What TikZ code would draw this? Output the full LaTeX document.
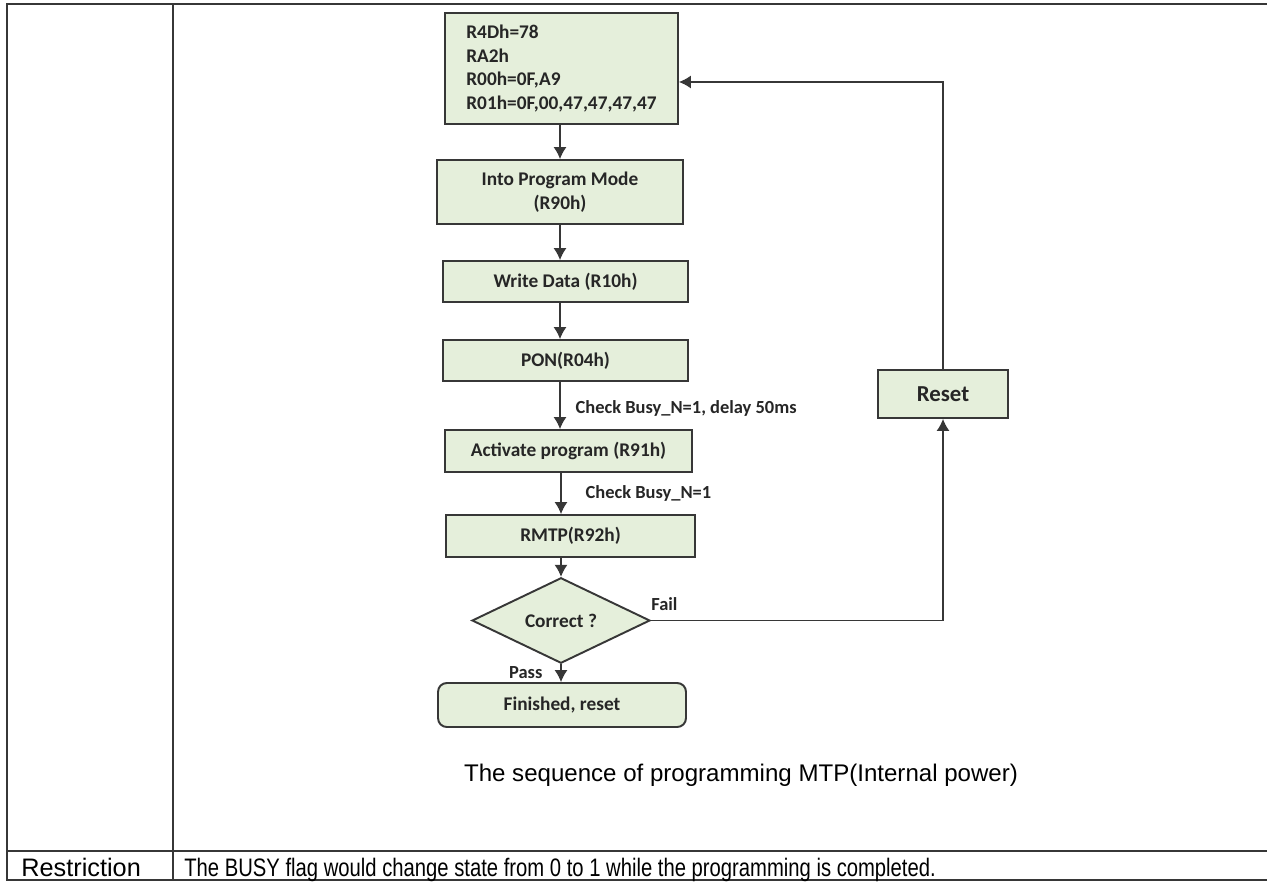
\documentclass[tikz,border=0pt]{standalone}
\usepackage{fontspec}
\setmainfont{Liberation Sans}
\newfontfamily\boxfont{Carlito}
\newfontfamily\narrowfont{Liberation Sans}[FakeStretch=0.8]
\usetikzlibrary{shapes.geometric,arrows.meta}

\definecolor{boxgreen}{RGB}{229,239,219}
\definecolor{edgegray}{RGB}{55,55,55}

\tikzset{
	stepbox/.style={draw=edgegray, line width=1.1pt, fill=boxgreen, text=black!85, inner sep=2pt, font=\boxfont\bfseries\fontsize{11}{13.4}\selectfont},
	flow/.style={draw=edgegray, line width=0.7pt, -{Latex[length=2.4mm,width=2.6mm]}},
	note/.style={text=black!85, inner sep=0pt, font=\boxfont\bfseries\fontsize{10.5}{12}\selectfont},
	grid/.style={draw=edgegray, line width=1pt}
}

\begin{document}
\begin{tikzpicture}[x=0.02cm, y=-0.02cm]
	\useasboundingbox (0,0) rectangle (1267,882);

	\draw[grid] (1267,4) -- (7,4) -- (7,880) -- (1267,880);
	\draw[grid] (173,4) -- (173,880);
	\draw[grid] (7,851) -- (1267,851);
	\node[anchor=base west, inner sep=0pt, font=\fontsize{14.4}{16}\selectfont] (restr) at (21,876) {Restriction};
	\node[anchor=base west, inner sep=0pt, font=\narrowfont\fontsize{14.4}{16}\selectfont] (busyflag) at (184,876) {The BUSY flag would change state from 0 to 1 while the programming is completed.};
	\node[anchor=base, inner sep=0pt, font=\fontsize{13.7}{16}\selectfont] (caption) at (741,781) {The sequence of programming MTP(Internal power)};

	\coordinate (axis) at (560,0);
	\node[stepbox, align=left, minimum width=4.66cm, minimum height=2.22cm] (init) at (561.5,68.5) {R4Dh=78\\RA2h\\R00h=0F,A9\\R01h=0F,00,47,47,47,47};
	\node[stepbox, align=center, minimum width=4.92cm, minimum height=1.28cm] (mode) at (560,192) {Into Program Mode\\(R90h)};
	\node[stepbox, minimum width=4.9cm, minimum height=0.82cm] (write) at (565.5,281.5) {Write Data (R10h)};
	\node[stepbox, minimum width=4.9cm, minimum height=0.82cm] (pon) at (565.5,360.5) {PON(R04h)};
	\node[stepbox, minimum width=4.94cm, minimum height=0.84cm] (act) at (568.5,451) {Activate program (R91h)};
	\node[stepbox, minimum width=4.98cm, minimum height=0.84cm] (rmtp) at (570.5,536) {RMTP(R92h)};
	\node[stepbox, diamond, inner sep=0pt, minimum width=3.56cm, minimum height=1.06cm] (check) at (561,620.5) {Correct ?};
	\node[stepbox, rounded corners=5pt, minimum width=4.96cm, minimum height=0.88cm] (done) at (562,705) {Finished, reset};
	\node[stepbox, minimum width=2.6cm, minimum height=0.96cm, font=\boxfont\bfseries\fontsize{13}{15}\selectfont] (reset) at (943,394) {Reset};

	\draw[flow] (init.south -| axis) -- (mode.north -| axis);
	\draw[flow] (mode.south -| axis) -- (write.north -| axis);
	\draw[flow] (write.south -| axis) -- (pon.north -| axis);
	\draw[flow] (pon.south -| axis) -- node[note, anchor=west, xshift=0.3cm, pos=0.57] (busyone) {Check Busy\_N=1, delay 50ms} (act.north -| axis);
	\draw[flow] (act.south -| check.north) -- node[note, anchor=west, xshift=0.48cm, pos=0.5] (busytwo) {Check Busy\_N=1} (rmtp.north -| check.north);
	\draw[flow] (rmtp.south -| check.north) -- (check.north);
	\draw[flow] (check.south) -- node[note, anchor=east, xshift=-0.36cm, pos=0.45] (pass) {Pass} (done.north -| check.south);
	\node[note, anchor=south west] (fail) at ([yshift=0.2cm]check.east) {Fail};
	\draw[flow] (check.east) -| (reset.south);
	\draw[flow] (reset.north) |- ([yshift=-0.27cm]init.east);
\end{tikzpicture}
\end{document}
